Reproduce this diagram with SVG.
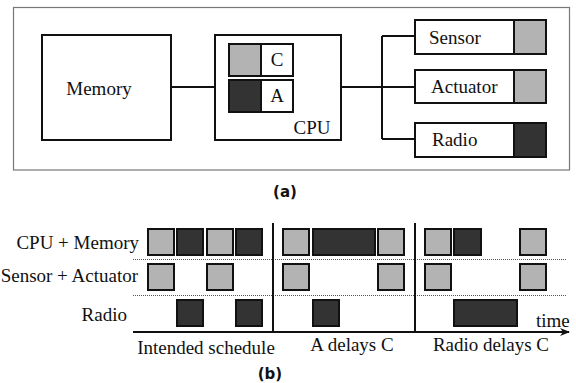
<svg xmlns="http://www.w3.org/2000/svg" width="576" height="383" viewBox="0 0 576 383">
<style>
text{font-family:"Liberation Serif","DejaVu Serif",serif;font-size:19px;fill:#111}
.cap{font-family:"DejaVu Sans","Liberation Sans",sans-serif;font-size:15px;font-weight:bold}
.box{fill:#fff;stroke:#111;stroke-width:2}
.g{fill:#b3b3b3;stroke:#111;stroke-width:2}
.d{fill:#333;stroke:#111;stroke-width:2}
.ln{stroke:#111;stroke-width:2;fill:none}
.dot{stroke:#555;stroke-width:1;stroke-dasharray:1 1;fill:none}
</style>
<defs>
<marker id="arr" markerWidth="10" markerHeight="8" refX="9" refY="4" orient="auto" markerUnits="userSpaceOnUse">
<path d="M0,0 L10,4 L0,8 L3,4 Z" fill="#111"/>
</marker>
</defs>
<rect x="13.5" y="7.5" width="556" height="162.5" fill="none" stroke="#777" stroke-width="1.2"/>
<g id="connectors">
<path class="ln" d="M171,87 H215"/>
<path class="ln" d="M341,87 H382"/>
<path class="ln" d="M382,36 V139 M382,36 H415 M382,87 H415 M382,139 H415"/>
</g>
<g id="memory">
<rect class="box" x="42" y="35" width="129" height="105"/>
<text x="99" y="95" text-anchor="middle">Memory</text>
</g>
<g id="cpu">
<rect class="box" x="215" y="35" width="126" height="105"/>
<rect class="g" x="229" y="44" width="32" height="32"/>
<rect class="box" x="261" y="44" width="32" height="32"/>
<text x="277" y="66" text-anchor="middle">C</text>
<rect class="d" x="229" y="80" width="32" height="32"/>
<rect class="box" x="261" y="80" width="32" height="32"/>
<text x="277" y="102" text-anchor="middle">A</text>
<text x="312" y="134" text-anchor="middle">CPU</text>
</g>
<g id="sensor">
<rect class="box" x="415" y="20" width="131" height="34"/>
<rect class="g" x="514" y="20" width="32" height="34"/>
<text x="429" y="44">Sensor</text>
</g>
<g id="actuator">
<rect class="box" x="415" y="70" width="131" height="33"/>
<rect class="g" x="514" y="70" width="32" height="33"/>
<text x="431" y="93">Actuator</text>
</g>
<g id="radio">
<rect class="box" x="415" y="123" width="131" height="34"/>
<rect class="d" x="514" y="123" width="32" height="34"/>
<text x="432" y="146">Radio</text>
</g>
<text class="cap" x="285" y="197" text-anchor="middle">(a)</text>

<g id="schedule">
<text x="139" y="249" text-anchor="end">CPU + Memory</text>
<text x="138" y="282" text-anchor="end">Sensor + Actuator</text>
<text x="127" y="321" text-anchor="end">Radio</text>
<path class="dot" d="M133,259.5 H567 M133,295.5 H567"/>
<path class="ln" d="M273,223 V333 M415,223 V333"/>
<path class="ln" d="M133,332 H569" marker-end="url(#arr)"/>
<text x="536" y="327">time</text>
<rect class="g" x="148" y="229" width="26" height="26"/>
<rect class="d" x="177" y="229" width="26" height="26"/>
<rect class="g" x="207" y="229" width="26" height="26"/>
<rect class="d" x="236" y="229" width="26" height="26"/>
<rect class="g" x="148" y="264" width="26" height="26"/>
<rect class="g" x="207" y="264" width="26" height="26"/>
<rect class="d" x="177" y="300" width="26" height="26"/>
<rect class="d" x="236" y="300" width="26" height="26"/>
<rect class="g" x="283" y="229" width="26" height="26"/>
<rect class="d" x="313" y="229" width="62" height="26"/>
<rect class="g" x="378" y="229" width="26" height="26"/>
<rect class="g" x="283" y="264" width="26" height="26"/>
<rect class="g" x="378" y="264" width="26" height="26"/>
<rect class="d" x="313" y="300" width="26" height="26"/>
<rect class="g" x="425" y="229" width="26" height="26"/>
<rect class="d" x="454" y="229" width="27" height="26"/>
<rect class="g" x="520" y="229" width="26" height="26"/>
<rect class="g" x="425" y="264" width="26" height="26"/>
<rect class="g" x="520" y="264" width="26" height="26"/>
<rect class="d" x="454" y="300" width="63" height="26"/>
<text x="206" y="354" text-anchor="middle">Intended schedule</text>
<text x="352" y="351" text-anchor="middle">A delays C</text>
<text x="491" y="351" text-anchor="middle">Radio delays C</text>
</g>
<text class="cap" x="270" y="379" text-anchor="middle">(b)</text>
</svg>
